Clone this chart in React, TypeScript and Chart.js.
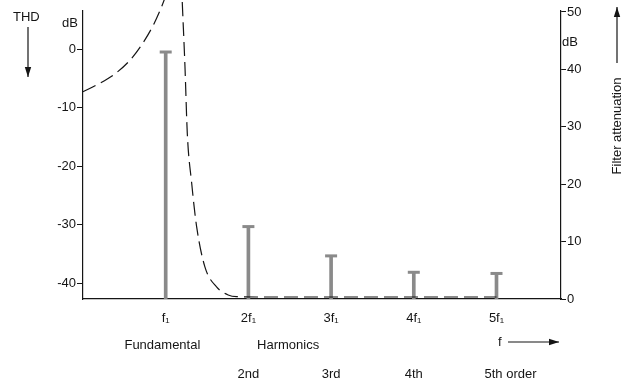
import React, { useEffect, useRef } from 'react';
import { Chart, registerables } from 'chart.js';

Chart.register(...registerables);

// ---- data ----
const harmonicX = [1, 2, 3, 4, 5];
const harmonicLabels = ['f\u2081', '2f\u2081', '3f\u2081', '4f\u2081', '5f\u2081'];
const orderLabels = ['', '2nd', '3rd', '4th', '5th order'];
const thdLevels = [-0.5, -30.3, -35.3, -38.1, -38.3];
const thdTicks = [-40, -30, -20, -10, 0];
const attenTicks = [0, 10, 20, 30, 40, 50];
const filterLowX = [0, 0.166, 0.366, 0.568, 0.72, 0.85, 0.95, 1.03];
const filterLowY = [36.1, 37.3, 39.0, 41.6, 44.5, 47.7, 50.9, 54.0];
const filterHighX = [1.19, 1.205, 1.233, 1.261, 1.314, 1.374, 1.474, 1.615, 1.756, 1.857, 2.1, 5.0];
const filterHighY = [55.2, 50.1, 40.5, 28.9, 20.2, 12.6, 5.6, 2.1, 0.7, 0.4, 0.35, 0.35];

const THD_MIN = -42.66;
const THD_MAX = 6.5;
const ATT_MIN = 0;
const ATT_MAX = 50.17;
const X_MIN = 0;
const X_MAX = 5.78;

const FONT = "'Liberation Sans', Arial, Helvetica, sans-serif";
const INK = '#151515';
const STEM = '#8a8a8a';

function arrow(ctx: CanvasRenderingContext2D, x1: number, y1: number, x2: number, y2: number) {
  ctx.save();
  ctx.strokeStyle = INK;
  ctx.fillStyle = INK;
  ctx.lineWidth = 1.2;
  ctx.beginPath();
  ctx.moveTo(x1, y1);
  ctx.lineTo(x2, y2);
  ctx.stroke();
  const a = Math.atan2(y2 - y1, x2 - x1);
  const L = 10, W = 3.2;
  ctx.beginPath();
  ctx.moveTo(x2, y2);
  ctx.lineTo(x2 - L * Math.cos(a) + W * Math.sin(a), y2 - L * Math.sin(a) - W * Math.cos(a));
  ctx.lineTo(x2 - L * Math.cos(a) - W * Math.sin(a), y2 - L * Math.sin(a) + W * Math.cos(a));
  ctx.closePath();
  ctx.fill();
  ctx.restore();
}

const annotations = {
  id: 'annotations',
  afterDraw(chart: any) {
    const ctx: CanvasRenderingContext2D = chart.ctx;
    const xs = chart.scales.x;
    const ca = chart.chartArea;
    ctx.save();
    ctx.fillStyle = INK;
    ctx.font = `13px ${FONT}`;
    ctx.textBaseline = 'middle';

    // left axis header
    ctx.textAlign = 'left';
    ctx.fillText('THD', 13, 17);
    arrow(ctx, 28, 27, 28, 77);
    ctx.textAlign = 'right';
    ctx.fillText('dB', ca.left - 5, 23);

    // right axis unit
    ctx.textAlign = 'left';
    ctx.fillText('dB', ca.right + 1, 42);

    // right axis title (vertical)
    ctx.save();
    ctx.translate(617, 126);
    ctx.rotate(-Math.PI / 2);
    ctx.textAlign = 'center';
    ctx.fillText('Filter attenuation', 0, 0);
    ctx.restore();
    arrow(ctx, 617, 63, 617, 7);

    // bottom rows
    const rowY1 = 345;
    const rowY2 = 374;
    ctx.textAlign = 'center';
    ctx.fillText('Fundamental', xs.getPixelForValue(0.96), rowY1);
    ctx.fillText('Harmonics', xs.getPixelForValue(2.48), rowY1);
    ctx.textAlign = 'left';
    ctx.fillText('f', 498, rowY1 - 3);
    arrow(ctx, 508, 342, 559, 342);

    orderLabels.forEach((lab, i) => {
      if (!lab) return;
      const px = xs.getPixelForValue(harmonicX[i]);
      if (lab.indexOf(' ') > 0) {
        ctx.textAlign = 'left';
        ctx.fillText(lab, px - 12, rowY2);
      } else {
        ctx.textAlign = 'center';
        ctx.fillText(lab, px, rowY2);
      }
    });
    ctx.restore();
  },
};

export default function App() {
  const ref = useRef<HTMLCanvasElement | null>(null);

  useEffect(() => {
    document.body.style.margin = '0';
    if (!ref.current) return;
    Chart.defaults.font.family = FONT;
    Chart.defaults.color = INK;

    const chart = new Chart(ref.current, {
      type: 'scatter',
      data: {
        datasets: [
          {
            type: 'line',
            label: 'filter low',
            data: filterLowX.map((x, i) => ({ x, y: filterLowY[i] })),
            yAxisID: 'y2',
            borderColor: INK,
            borderWidth: 1.2,
            borderDash: [14, 6],
            pointRadius: 0,
            cubicInterpolationMode: 'monotone',
            fill: false,
            clip: false as any,
          },
          {
            type: 'line',
            label: 'filter high',
            data: filterHighX.map((x, i) => ({ x, y: filterHighY[i] })),
            yAxisID: 'y2',
            borderColor: INK,
            borderWidth: 1.2,
            borderDash: [14, 6],
            pointRadius: 0,
            cubicInterpolationMode: 'monotone',
            fill: false,
            clip: false as any,
          },
          {
            type: 'bar',
            label: 'stems',
            data: harmonicX.map((x, i) => ({ x, y: [THD_MIN, thdLevels[i]] })) as any,
            yAxisID: 'y',
            backgroundColor: STEM,
            borderWidth: 0,
            barThickness: 3,
            grouped: false,
          } as any,
          {
            type: 'scatter',
            label: 'caps',
            data: harmonicX.map((x, i) => ({ x, y: thdLevels[i] })),
            yAxisID: 'y',
            pointStyle: 'line',
            pointRadius: 6,
            pointBorderWidth: 3,
            pointBorderColor: STEM,
            pointBackgroundColor: STEM,
            showLine: false,
          } as any,
        ],
      },
      options: {
        animation: false,
        responsive: true,
        maintainAspectRatio: false,
        layout: { padding: { top: 11, left: 0, right: 0, bottom: 0 } },
        plugins: {
          legend: { display: false },
          tooltip: { enabled: false },
        },
        events: [],
        scales: {
          x: {
            type: 'linear',
            min: X_MIN,
            max: X_MAX,
            offset: false,
            afterBuildTicks: (s: any) => {
              s.ticks = harmonicX.map((v) => ({ value: v }));
            },
            afterFit: (s: any) => {
              s.height = 82;
            },
            ticks: {
              autoSkip: false,
              maxRotation: 0,
              padding: 12,
              font: { size: 13 },
              color: INK,
              callback: (v: any) => {
                const i = harmonicX.indexOf(Number(v));
                return i >= 0 ? harmonicLabels[i] : '';
              },
            },
            grid: { display: true, drawOnChartArea: false, drawTicks: false },
            border: { display: true, color: INK, width: 1.2 },
          },
          y: {
            type: 'linear',
            position: 'left',
            min: THD_MIN,
            max: THD_MAX,
            afterBuildTicks: (s: any) => {
              s.ticks = thdTicks.map((v) => ({ value: v }));
            },
            afterFit: (s: any) => {
              s.width = 83;
            },
            ticks: {
              padding: 1,
              font: { size: 13 },
              color: INK,
              callback: (v: any) => String(v),
            },
            grid: { drawOnChartArea: false, drawTicks: true, tickLength: 6, color: INK, lineWidth: 1 },
            border: { display: true, color: INK, width: 1.2 },
          },
          y2: {
            type: 'linear',
            position: 'right',
            min: ATT_MIN,
            max: ATT_MAX,
            afterBuildTicks: (s: any) => {
              s.ticks = attenTicks.map((v) => ({ value: v }));
            },
            afterFit: (s: any) => {
              s.width = 73;
            },
            ticks: {
              padding: 1,
              font: { size: 13 },
              color: INK,
              callback: (v: any) => String(v),
            },
            grid: { drawOnChartArea: false, drawTicks: true, tickLength: 5, color: INK, lineWidth: 1 },
            border: { display: true, color: INK, width: 1.2 },
          },
        },
      },
      plugins: [annotations],
    } as any);

    return () => chart.destroy();
  }, []);

  return (
    <div style={{ position: 'relative', width: 634, height: 381, background: '#fff' }}>
      <canvas ref={ref} />
    </div>
  );
}
